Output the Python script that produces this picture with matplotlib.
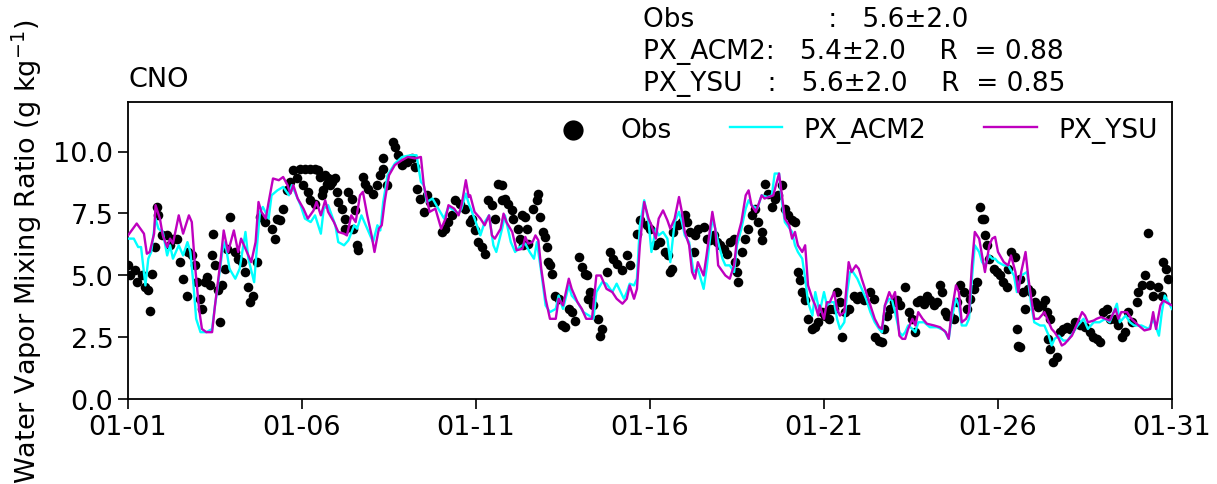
import matplotlib
matplotlib.use('Agg')
import matplotlib.pyplot as plt
import matplotlib.dates as mdates
import numpy as np
import pandas as pd
from matplotlib.ticker import MultipleLocator, FormatStrFormatter

# ---------------- data (hours since 01-01 00:00, g/kg) ----------------
obs_hours = [
    0.2, 1.4, 4.8, 6.0, 9.4, 11.7, 14.0, 15.2, 16.3, 18.6, 19.8, 20.9, 23.2, 26.7, 29.0, 31.3, 33.6, 35.9, 38.2, 40.5,
    41.6, 43.9, 46.2, 47.4, 49.7, 50.8, 53.1, 54.7, 56.6, 57.7, 58.9, 60.0, 62.3, 63.5, 64.6, 66.9, 68.1, 70.4, 73.8, 76.1,
    78.4, 80.7, 83.0, 84.2, 86.5, 88.8, 91.1, 94.5, 99.1, 101.4, 102.6, 104.9, 107.2, 109.5, 111.8, 114.1,
    116.4, 118.7, 122.1, 125.6, 129.0, 131.3, 132.5, 135.9, 138.2, 140.5, 142.8, 121.0, 124.4, 125.6, 129.0, 133.6,
    134.8, 137.1, 139.4, 143.9, 145.1, 147.4, 149.7, 152.0, 154.3, 156.6, 157.8, 158.9, 155.5, 149.7, 162.4, 163.5,
    165.8, 169.3, 171.6, 173.9, 176.2, 178.5, 176.2, 183.0, 184.2, 186.5, 188.8, 192.3, 195.7, 198.0, 199.2, 201.5,
    203.8, 206.1, 208.4, 211.8, 216.4, 218.7, 221.0, 223.3, 225.6, 229.0, 232.5, 235.9,
    237.1, 239.4, 241.7, 244.0, 246.3, 248.6, 250.9, 253.2, 255.5, 257.8, 257.8, 260.1, 262.4, 264.6, 265.8, 269.3,
    271.6, 273.9, 275.0, 270.4, 272.7, 276.2, 279.6, 281.9, 283.1, 284.2, 286.5, 287.7, 288.8, 290.0, 291.1, 292.3,
    294.6, 296.9, 299.2, 301.5, 303.8, 306.1, 308.4, 310.7, 313.0, 315.2, 316.4, 317.5, 318.7, 321.0, 324.4, 325.6,
    326.7, 330.2, 332.5, 334.8, 337.1, 340.6, 344.0, 346.3, 350.9, 353.2,
    357.8, 360.1, 363.5, 366.9, 370.4, 372.7, 373.9, 375.0, 376.2, 379.6, 381.9, 384.2, 385.4, 387.6, 390.0, 391.1,
    393.4, 396.9, 399.2, 401.5, 403.8, 406.1, 408.4, 410.7, 412.9, 415.2, 417.6, 418.7, 419.9, 421.0, 423.3, 425.6,
    427.9, 430.2, 432.5, 434.8, 437.1, 437.1, 439.4, 441.7, 444.0, 446.3, 448.6, 450.9, 453.2, 455.5, 457.8, 460.1,
    462.4, 463.5, 464.7, 467.0, 469.3, 471.6, 473.9, 476.2,
    478.6, 480.9, 483.2, 484.3, 486.6, 488.9, 491.2, 492.4, 494.7, 497.0, 500.4, 502.7, 505.0, 507.3, 511.9, 514.2,
    515.4, 517.7, 520.0, 521.1, 523.4, 525.7, 528.0, 530.3, 532.6, 536.1, 538.4, 540.7, 543.0, 544.1, 546.4, 548.7,
    551.0, 553.3, 555.6, 557.9, 560.2, 561.4, 563.7, 564.8, 567.1, 569.4, 571.7, 574.0, 576.3, 578.6, 580.9, 583.2,
    585.5, 587.3, 588.9, 590.1, 591.3, 592.4, 593.6, 597.2,
    599.0, 601.3, 603.6, 605.9, 607.0, 609.3, 611.6, 615.1, 617.4, 618.5, 612.8, 613.9, 615.1, 620.8, 623.1, 625.4,
    627.7, 630.0, 632.3, 633.5, 635.8, 634.6, 635.8, 638.1, 640.4, 642.7, 645.0, 647.3, 649.6, 653.0, 656.5, 659.9,
    663.4, 665.7, 668.0, 670.2, 672.6, 674.9, 677.2, 680.6, 682.9, 685.2, 687.5, 689.8, 692.1, 695.6, 696.7, 699.0,
    701.3, 703.6, 704.8, 707.1, 710.5, 712.8, 713.9, 716.2, 717.4,
]
obs_values = [
    5.40, 4.99, 5.20, 4.72, 4.99, 4.52, 4.39, 3.54, 5.06, 6.14, 7.76, 7.42, 6.61, 6.61, 6.21, 6.48, 6.48, 5.53, 4.86, 4.18,
    5.94, 5.80, 5.40, 4.72, 4.05, 3.64, 4.72, 4.93, 4.59, 5.80, 6.68, 5.40, 4.39, 3.10, 4.59, 5.26, 6.07, 7.35, 5.94, 5.67,
    5.53, 5.13, 4.52, 3.91, 4.18, 5.53, 7.35, 7.15, 6.88, 6.48, 7.29, 7.22, 7.69, 8.43, 8.77, 9.24,
    8.91, 9.31, 9.31, 9.31, 9.31, 9.24, 8.97, 9.04, 8.91, 8.77, 8.91, 8.64, 8.37, 8.03, 7.89, 8.23,
    8.43, 8.70, 8.64, 8.37, 7.96, 7.69, 7.29, 8.37, 8.10, 7.62, 6.21, 6.01, 6.88, 6.88, 8.97, 8.70,
    8.50, 8.30, 8.64, 9.04, 9.31, 8.64, 9.72, 10.39, 10.19, 9.85, 9.45, 9.58, 9.72, 9.38, 8.50, 8.10,
    7.56, 8.23, 7.96, 7.96, 6.75, 6.88, 7.15, 7.42, 8.03, 7.89, 7.69, 7.15,
    7.29, 6.81, 6.34, 6.14, 5.87, 8.03, 7.83, 7.29, 8.70, 8.64, 8.03, 8.10, 7.89, 7.62, 7.29, 6.88,
    7.42, 7.35, 6.88, 6.48, 6.21, 6.28, 7.69, 8.03, 8.30, 7.35, 6.75, 6.55, 6.14, 5.53, 5.40, 5.06,
    4.18, 4.05, 2.97, 2.90, 3.64, 3.51, 3.17, 5.74, 5.33, 5.06, 4.99, 4.05, 4.32, 3.78, 3.24, 2.56,
    2.83, 5.13, 5.94, 5.67, 5.47, 5.20, 5.80, 5.40, 6.68, 7.22,
    7.02, 6.88, 6.21, 6.34, 5.94, 5.80, 5.13, 5.26, 6.75, 7.02, 7.15, 7.42, 7.15, 6.75, 5.94, 6.61,
    6.88, 6.95, 6.48, 6.41, 6.61, 6.34, 6.21, 6.07, 5.87, 6.34, 6.48, 5.53, 5.13, 4.72, 5.94, 6.48,
    6.88, 7.42, 7.69, 7.15, 6.75, 6.41, 8.70, 8.30, 7.76, 8.10, 8.23, 8.64, 7.69, 7.42, 7.22, 7.15,
    5.13, 4.79, 4.32, 3.98, 3.24, 2.83, 2.90, 3.10,
    3.51, 3.37, 3.24, 3.64, 3.64, 4.32, 3.91, 2.50, 3.51, 3.64, 4.18, 4.05, 4.18, 3.98, 4.32, 4.05,
    2.50, 2.36, 2.29, 2.83, 3.37, 3.64, 3.91, 3.98, 3.78, 4.52, 3.51, 3.24, 2.70, 3.91, 3.98, 3.85,
    4.18, 3.98, 3.78, 3.91, 4.59, 4.32, 3.51, 3.37, 3.37, 3.24, 3.91, 4.59, 4.32, 3.64, 4.05, 4.45,
    4.72, 7.76, 7.29, 7.29, 6.61, 6.21, 5.67, 5.26,
    5.13, 4.99, 4.72, 4.52, 5.26, 5.94, 5.74, 4.86, 4.32, 3.64, 2.83, 2.16, 2.09, 4.45, 4.32, 3.91,
    3.71, 3.78, 3.98, 3.51, 3.24, 2.43, 2.02, 1.48, 1.69, 2.70, 2.83, 2.90, 2.83, 3.10, 2.97, 2.90,
    2.70, 2.50, 2.43, 2.29, 3.51, 3.64, 3.24, 3.24, 2.97, 2.50, 2.70, 3.51, 3.10, 3.91, 4.32, 4.59,
    4.99, 6.72, 4.59, 4.18, 4.52, 4.18, 5.53, 5.26, 4.86,
]

acm2_hours = [
    0, 4, 7, 9, 12, 14, 16, 19, 21, 24, 27, 29, 31, 35, 38, 41, 43, 45, 47, 50, 54, 58, 60, 62, 65, 67, 70, 74, 77, 81,
    83, 87, 89, 91, 93, 97, 99, 103, 107, 111, 113,
    119, 122, 126, 129, 133, 135, 138, 143, 145, 149, 152, 156, 158, 161, 164, 167, 169, 172, 174, 176, 179, 184, 189,
    195, 199, 202, 204, 206, 210, 214, 218, 221, 225, 228, 230, 233, 235,
    239, 243, 246, 249, 252, 254, 258, 260, 264, 267, 270, 274, 277, 280, 282, 285, 288, 291, 295, 297, 300, 304, 306,
    310, 314, 318, 321, 323, 327, 330, 334, 337, 342, 344, 346, 349, 351, 353, 356,
    359, 361, 364, 366, 369, 372, 374, 377, 380, 382, 384, 387, 390, 393, 397, 399, 403, 405, 407, 410, 412, 415, 418,
    420, 423, 426, 428, 430, 434, 437, 441, 444, 446, 449, 451, 453, 458, 460, 462, 465, 467, 469, 472, 474, 477,
    480, 482, 484, 487, 489, 491, 494, 496, 498, 500, 503, 505, 509, 512, 515, 518, 520, 522, 525, 527, 529, 532, 534,
    536, 538, 541, 543, 545, 549, 553, 558, 563, 566, 568, 571, 573, 575, 578, 580, 582, 584, 587, 589, 591, 594, 596,
    598, 600, 604, 607, 611, 613, 616, 620, 623, 625, 629, 632, 635, 637, 639, 642, 645, 648, 652, 655, 659, 662, 666,
    670, 674, 677, 682, 684, 688, 691, 694, 699, 704, 707, 711, 713, 715, 720,
]
acm2_values = [
    6.48, 6.48, 6.14, 6.14, 4.59, 5.67, 5.94, 7.29, 6.88, 6.75, 5.80, 6.21, 5.67, 6.21, 5.80, 6.34, 5.94, 4.72, 3.24, 2.70,
    2.70, 2.83, 3.78, 4.59, 5.94, 6.34, 5.26, 4.86, 5.26, 6.75, 5.67, 4.72, 6.21, 7.56, 7.76, 7.29, 8.23, 8.43, 8.57, 8.23,
    8.64,
    7.83, 7.29, 7.15, 7.42, 6.68, 7.69, 7.83, 7.02, 6.34, 6.21, 6.41, 7.02, 6.88, 7.42, 7.02, 6.61, 6.34, 7.02, 6.81, 7.96,
    9.04, 9.51, 9.78, 9.85, 9.85, 8.77, 8.64, 7.96, 8.10, 7.69, 7.29, 7.76, 7.62, 7.49, 7.69, 8.30, 7.89,
    7.29, 6.61, 7.15, 7.42, 6.21, 5.94, 6.88, 7.42, 6.34, 5.94, 6.14, 6.28, 5.94, 5.67, 6.34, 5.13, 3.78, 3.51, 3.64, 4.18,
    3.64, 4.59, 4.18, 3.91, 3.51, 3.37, 3.24, 4.32, 4.72, 4.66, 4.32, 4.66, 4.05, 4.32, 4.66, 4.59, 4.86, 7.02, 8.03,
    7.15, 5.94, 6.88, 6.61, 6.75, 6.48, 5.53, 7.15, 7.56, 7.15, 6.61, 6.34, 5.13, 5.26, 4.45, 5.26, 7.29, 6.88, 6.34, 5.67,
    5.40, 5.40, 5.13, 6.21, 6.88, 7.69, 8.03, 7.83, 7.69, 8.23, 8.16, 8.23, 9.11, 9.11, 7.96, 7.15, 6.75, 6.21, 5.94, 5.67,
    4.86, 3.91, 3.37, 4.32, 3.51,
    4.32, 3.78, 3.91, 3.91, 3.24, 2.83, 3.10, 4.32, 5.13, 5.13, 4.86, 4.59, 4.05, 3.51, 3.10, 2.83, 2.70, 3.78, 4.05, 3.98,
    3.51, 2.70, 2.56, 2.70, 2.97, 2.83, 2.70, 3.10, 3.10, 2.90, 2.90, 2.77, 2.43, 3.24, 4.05, 3.78, 2.97, 2.97, 3.24, 4.86,
    6.21, 5.94, 5.53, 5.40, 5.80, 5.67,
    5.67, 5.53, 5.40, 5.40, 4.99, 4.32, 4.99, 5.13, 3.78, 3.10, 2.97, 2.97, 2.56, 2.16, 2.43, 2.56, 2.36, 2.36, 2.70, 2.97,
    3.24, 2.83, 3.10, 3.10, 3.24, 3.10, 3.85, 3.10, 3.37, 3.10, 2.97, 2.97, 2.83, 3.24, 2.56, 3.51, 4.18, 3.64,
]

ysu_hours = [
    0, 6, 11, 13, 15, 18, 19, 22, 24, 27, 29, 31, 35, 38, 42, 44, 46, 49, 51, 54, 58, 60, 64, 66, 69, 73, 76, 78, 82, 85,
    88, 90, 92, 95, 97, 100, 104, 107, 110, 112, 114,
    117, 121, 124, 128, 130, 133, 136, 138, 142, 145, 149, 151, 154, 157, 160, 162, 165, 168, 170, 173, 175, 177, 180,
    184, 189, 193, 198, 202, 204, 206, 208, 212, 214, 216, 219, 221, 225, 228, 230, 233, 235,
    236, 239, 243, 246, 249, 251, 253, 257, 259, 261, 265, 268, 272, 274, 276, 279, 281, 283, 285, 288, 291, 295, 297,
    300, 304, 306, 310, 313, 316, 320, 323, 326, 328, 330, 334, 337, 341, 344, 346, 349, 351, 353, 356,
    359, 361, 364, 366, 369, 372, 374, 377, 380, 382, 384, 387, 389, 391, 393, 397, 399, 403, 405, 407, 412, 415, 418,
    420, 423, 426, 428, 430, 433, 435, 437, 439, 442, 445, 449, 451, 453, 456, 458, 460, 462, 465, 467, 469, 472, 474, 476,
    477, 480, 482, 484, 487, 489, 491, 494, 497, 499, 502, 504, 506, 509, 512, 515, 518, 520, 522, 525, 527, 529, 532,
    534, 536, 538, 541, 543, 545, 548, 551, 556, 560, 564, 566, 568, 571, 573, 575, 578, 580, 582, 584, 587, 589, 591,
    594, 596,
    598, 600, 604, 607, 609, 612, 614, 616, 619, 621, 623, 625, 628, 630, 632, 635, 637, 639, 642, 644, 646, 648, 651,
    654, 658, 660, 662, 666, 668, 671, 674, 677, 681, 683, 685, 689, 692, 697, 701, 705, 707, 709, 712, 714, 716, 720,
]
ysu_values = [
    6.61, 7.09, 6.68, 5.87, 5.94, 6.68, 7.83, 7.29, 6.61, 6.14, 6.48, 6.28, 7.42, 6.68, 7.42, 7.15, 5.53, 3.64, 2.83, 2.70,
    2.70, 3.78, 5.67, 6.81, 5.94, 6.81, 5.94, 6.48, 5.94, 5.53, 6.34, 7.96, 7.56, 7.29, 7.96, 8.91, 8.84, 8.97, 8.64, 8.30,
    8.64,
    8.10, 7.69, 7.29, 7.62, 7.96, 7.42, 8.03, 7.56, 7.15, 6.75, 6.68, 6.61, 7.42, 7.15, 8.23, 8.37, 7.42, 6.61, 5.94, 6.88,
    7.02, 7.96, 9.04, 9.45, 9.65, 9.78, 9.72, 9.78, 8.64, 8.10, 7.56, 7.69, 7.29, 6.88, 7.29, 7.83, 7.69, 7.42, 7.83, 8.84,
    8.16,
    8.23, 7.56, 7.29, 7.02, 7.42, 6.61, 6.48, 6.88, 7.49, 7.15, 6.75, 6.01, 6.07, 6.55, 6.28, 6.34, 6.61, 6.41, 5.26, 4.05,
    3.24, 3.24, 4.05, 3.78, 4.86, 4.45, 3.91, 3.64, 3.24, 3.24, 4.99, 4.99, 4.72, 4.45, 4.32, 4.05, 3.85, 4.05, 4.59, 4.05,
    4.45, 6.21, 7.96,
    7.29, 7.02, 6.48, 7.29, 7.62, 7.22, 6.88, 7.29, 8.16, 7.56, 6.75, 6.21, 5.13, 4.86, 5.53, 4.99, 5.80, 7.56, 6.88, 5.40,
    4.99, 4.86, 5.40, 6.48, 7.15, 8.23, 8.43, 7.83, 7.56, 7.89, 8.23, 8.10, 8.16, 8.23, 9.11, 8.23, 7.29, 7.02, 6.48, 6.75,
    6.21, 5.94, 6.21, 4.59, 4.05, 3.78, 3.37,
    3.78, 3.24, 3.91, 3.91, 4.32, 3.64, 3.37, 3.51, 5.53, 5.13, 5.40, 5.26, 4.86, 4.32, 3.78, 3.24, 2.90, 2.83, 3.78, 4.32,
    4.05, 4.32, 2.56, 2.43, 2.43, 2.83, 3.24, 2.97, 3.51, 3.24, 3.04, 2.97, 2.90, 2.70, 2.43, 3.51, 4.59, 4.32, 3.10, 3.24,
    3.51, 5.40, 6.75, 6.48, 5.80, 5.13, 6.21, 6.48,
    6.55, 5.94, 5.53, 5.40, 5.80, 5.13, 4.32, 5.13, 5.94, 4.86, 4.05, 3.24, 3.24, 3.37, 3.51, 3.10, 2.83, 2.70, 2.43, 2.16,
    2.23, 2.36, 2.56, 2.97, 3.51, 3.37, 3.10, 3.17, 3.24, 3.31, 3.24, 3.17, 3.64, 3.24, 3.51, 3.51, 3.24, 2.97, 2.77, 2.83,
    3.51, 2.83, 3.78, 3.98, 3.91, 3.78,
]

site_name = "CNO"
stats_lines = [
    "Obs" + " " * 16 + ":   5.6\u00b12.0",
    "PX_ACM2:   5.4\u00b12.0    R  = 0.88",
    "PX_YSU   :   5.6\u00b12.0    R  = 0.85",
]
ylabel_text = "Water Vapor Mixing Ratio (g kg$^{-1}$)"
tick_days = [1, 6, 11, 16, 21, 26, 31]

# ---------------- plot ----------------
FS = 19.5
FS_TXT = 19
start = pd.Timestamp("2019-01-01")


def to_time(h):
    return start + pd.to_timedelta(np.asarray(h, dtype=float), unit="h")


fig = plt.figure(figsize=(12.17, 4.85), dpi=100)
ax = fig.add_axes([128 / 1217, 1 - 400 / 485, 1044 / 1217, 297 / 485])

ax.scatter(to_time(obs_hours), obs_values, s=48, c="k", linewidths=0, label="Obs", zorder=2)
ax.plot(to_time(acm2_hours), acm2_values, color="cyan", lw=1.7, label="PX_ACM2", zorder=3)
ax.plot(to_time(ysu_hours), ysu_values, color="m", lw=1.7, label="PX_YSU", zorder=4)

ax.set_xlim(start, start + pd.Timedelta(days=30))
ax.set_ylim(0, 12)
ax.xaxis.set_major_locator(mdates.DayLocator(bymonthday=tick_days))
ax.xaxis.set_major_formatter(mdates.DateFormatter("%m-%d"))
ax.yaxis.set_major_locator(MultipleLocator(2.5))
ax.yaxis.set_major_formatter(FormatStrFormatter("%.1f"))
ax.tick_params(labelsize=FS, length=7, width=1.2)
for sp in ax.spines.values():
    sp.set_linewidth(1.3)

ax.set_ylabel(ylabel_text, fontsize=FS)
ax.yaxis.set_label_coords(-0.080, 0.5)
ax.set_title(site_name, loc="left", fontsize=FS, pad=11.5)
ax.text(0.493, 1.02, "\n".join(stats_lines), transform=ax.transAxes,
        fontsize=FS_TXT, ha="left", va="bottom", linespacing=1.3)

ax.legend(loc="upper right", ncol=3, frameon=False, fontsize=FS_TXT, markerscale=2.1,
          handlelength=2.0, columnspacing=2.2, borderaxespad=0.15)

fig.savefig("out.png", dpi=100)
